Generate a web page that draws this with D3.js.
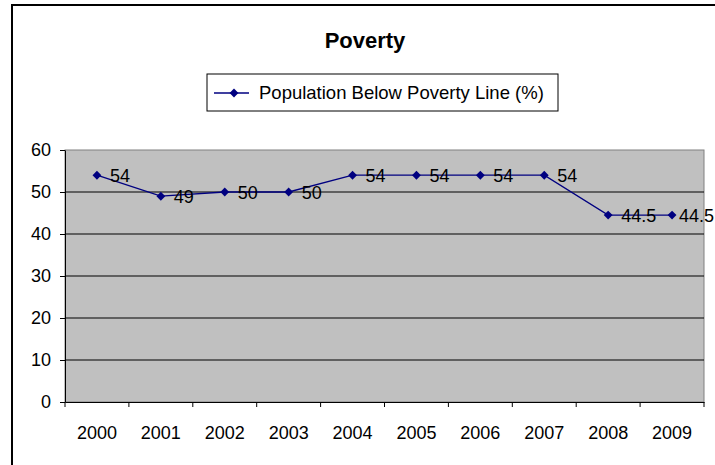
<!DOCTYPE html>
<html>
<head>
<meta charset="utf-8">
<script src="https://cdn.jsdelivr.net/npm/d3@7"></script>
<style>
  body { margin: 0; background: #fff; }
  svg { display: block; font-family: "Liberation Sans", Arial, sans-serif; }
</style>
</head>
<body>
<div id="chart"></div>
<script>
const years = ["2000", "2001", "2002", "2003", "2004", "2005", "2006", "2007", "2008", "2009"];
const poverty = [54, 49, 50, 50, 54, 54, 54, 54, 44.5, 44.5];
const yTicks = [0, 10, 20, 30, 40, 50, 60];
const seriesName = "Population Below Poverty Line (%)";

const W = 715, H = 465;
const margin = { top: 150, right: 11, bottom: 63, left: 65 };
const width = W - margin.left - margin.right;
const height = H - margin.top - margin.bottom;

const svg = d3.select("#chart").append("svg")
    .attr("width", W)
    .attr("height", H);

// outer frame
svg.append("rect")
    .attr("x", 12).attr("y", 5)
    .attr("width", 740).attr("height", 500)
    .attr("fill", "#fff")
    .attr("stroke", "#000")
    .attr("stroke-width", 2);

const g = svg.append("g")
    .attr("transform", `translate(${margin.left},${margin.top})`);

// scales
const x = d3.scaleBand().domain(years).range([0, width]);
const y = d3.scaleLinear().domain([0, 60]).range([height, 0]);

// plot area
g.append("rect")
    .attr("width", width).attr("height", height)
    .attr("fill", "#c0c0c0")
    .attr("stroke", "#808080")
    .attr("stroke-width", 1);

// gridlines
g.selectAll("line.grid")
    .data(yTicks.filter(d => d > 0 && d < 60))
    .enter().append("line")
    .attr("class", "grid")
    .attr("x1", 0).attr("x2", width)
    .attr("y1", d => y(d)).attr("y2", d => y(d))
    .attr("stroke", "#000").attr("stroke-width", 1);

// axes
const yAxis = g.append("g")
    .call(d3.axisLeft(y).tickValues(yTicks).tickSize(5).tickPadding(9).tickSizeOuter(0));
yAxis.select(".domain").attr("stroke", "#000");
yAxis.selectAll("text").style("font-size", "18px").attr("fill", "#000");

const xAxis = g.append("g")
    .attr("transform", `translate(0,${height})`)
    .call(d3.axisBottom(x).tickSize(0).tickSizeOuter(0).tickPadding(24));
xAxis.select(".domain").attr("stroke", "#000");
xAxis.selectAll("text").style("font-size", "18px").attr("fill", "#000");

// x tick marks between categories
const bounds = years.map(d => x(d)).concat([width]);
xAxis.selectAll("line.sep")
    .data(bounds)
    .enter().append("line")
    .attr("class", "sep")
    .attr("x1", d => d).attr("x2", d => d)
    .attr("y1", 0).attr("y2", 5)
    .attr("stroke", "#000");

// line
const cx = d => x(d) + x.bandwidth() / 2;
const pts = years.map((yr, i) => ({ yr, v: poverty[i] }));

g.append("path")
    .datum(pts)
    .attr("fill", "none")
    .attr("stroke", "#000080")
    .attr("stroke-width", 1.3)
    .attr("d", d3.line().x(d => cx(d.yr)).y(d => y(d.v)));

const diamond = d3.symbol().type(d3.symbolDiamond2).size(50);

g.selectAll("path.mark")
    .data(pts)
    .enter().append("path")
    .attr("class", "mark")
    .attr("transform", d => `translate(${cx(d.yr)},${y(d.v)})`)
    .attr("d", diamond)
    .attr("fill", "#000080");

// data labels (last one nudged left to stay inside the frame)
g.selectAll("text.lbl")
    .data(pts)
    .enter().append("text")
    .attr("class", "lbl")
    .attr("x", d => Math.min(cx(d.yr) + 13, width - 25))
    .attr("y", d => y(d.v) + 7)
    .style("font-size", "18px")
    .attr("fill", "#000")
    .text(d => d.v);

// title
svg.append("text")
    .attr("x", 365)
    .attr("y", 48)
    .attr("text-anchor", "middle")
    .style("font-size", "22px")
    .style("font-weight", "bold")
    .text("Poverty");

// legend
const legend = svg.append("g").attr("transform", "translate(207,74)");
legend.append("rect")
    .attr("width", 351).attr("height", 37)
    .attr("fill", "#fff").attr("stroke", "#000");
legend.append("line")
    .attr("x1", 7).attr("x2", 42)
    .attr("y1", 19).attr("y2", 19)
    .attr("stroke", "#000080").attr("stroke-width", 1.3);
legend.append("path")
    .attr("transform", "translate(27,19)")
    .attr("d", diamond)
    .attr("fill", "#000080");
legend.append("text")
    .attr("x", 52).attr("y", 25)
    .style("font-size", "18.5px")
    .text(seriesName);
</script>
</body>
</html>
